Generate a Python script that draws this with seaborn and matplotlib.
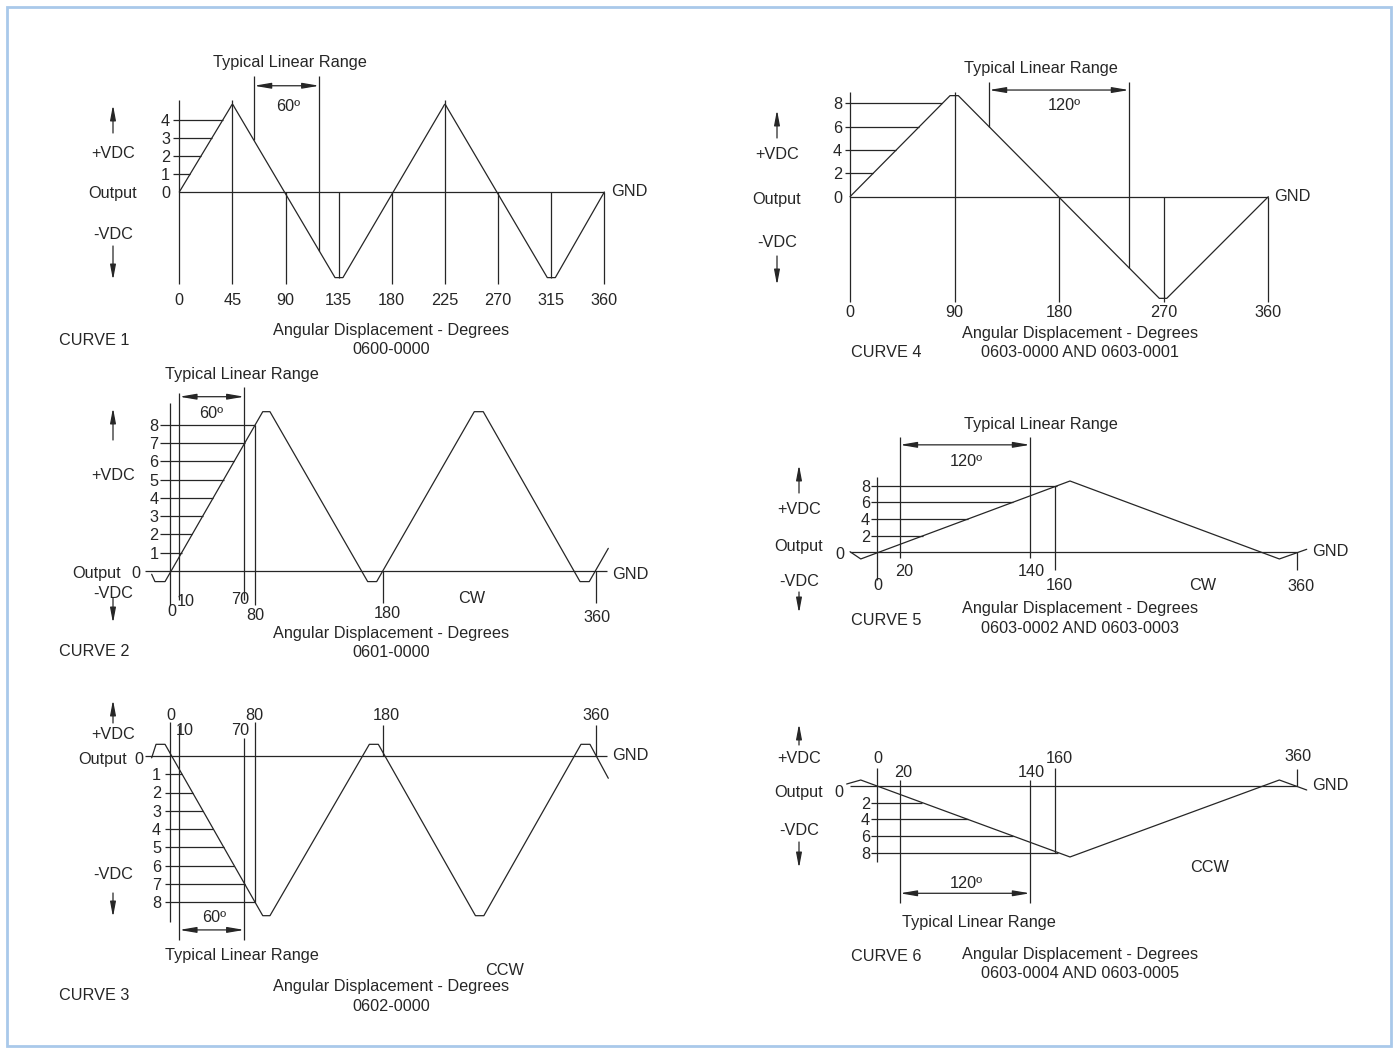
import numpy as np
import seaborn as sns
import matplotlib
matplotlib.use('Agg')
import matplotlib.pyplot as plt
from matplotlib.patches import Rectangle
from matplotlib.transforms import ScaledTranslation

# ---- values: x in degrees, y in volts ----
# CURVE 1 - 0600-0000
c1_deg = [0, 43.3, 44.3, 45, 45.7, 46.7, 131.9, 138.6, 223.3, 224.3, 225, 225.7, 226.7, 311.7, 318.5, 360]
c1_vdc = [0, 4.68, 4.80, 4.85, 4.80, 4.68, -4.73, -4.73, 4.68, 4.80, 4.85, 4.80, 4.68, -4.73, -4.73, 0]
c1_levels = [1, 2, 3, 4]
c1_marks = [0, 45, 90, 135, 180, 225, 270, 315, 360]
c1_mark_labels = ['0', '45', '90', '135', '180', '225', '270', '315', '360']
c1_range = [63.3, 118.6]

# CURVE 2 - 0601-0000 (CW)
c2_deg = [-15.5, -12.7, -4.2, 78.4, 84.5, 167.1, 174.7, 257.2, 264.8, 346.6, 354.4, 370.5]
c2_vdc = [-0.18, -0.58, -0.58, 8.72, 8.72, -0.58, -0.58, 8.72, 8.72, -0.58, -0.58, 1.24]
c2_levels = [1, 2, 3, 4, 5, 6, 7, 8]
c2_marks = [0, 7.9, 62.8, 71.9, 180, 360]
c2_mark_labels = ['0', '10', '70', '80', '180', '360']
c2_range = [7.9, 62.8]

# CURVE 3 - 0602-0000 (CCW)
c3_deg = [-15.5, -11.8, -4.2, 78.4, 84.5, 168.5, 176.1, 258.2, 265.3, 347.4, 355.0, 370.5]
c3_vdc = [-0.1, 0.64, 0.64, -8.75, -8.75, 0.64, 0.64, -8.75, -8.75, 0.64, 0.64, -1.22]
c3_levels = [-1, -2, -3, -4, -5, -6, -7, -8]
c3_marks = [0, 7.9, 62.8, 71.9, 180, 360]
c3_mark_labels = ['0', '10', '70', '80', '180', '360']
c3_range = [7.9, 62.8]

# CURVE 4 - 0603-0000 AND 0603-0001
c4_deg = [0, 86.1, 93.2, 266.2, 272.6, 360]
c4_vdc = [0, 8.66, 8.66, -8.71, -8.71, 0]
c4_levels = [2, 4, 6, 8]
c4_marks = [0, 90, 180, 270, 360]
c4_mark_labels = ['0', '90', '180', '270', '360']
c4_range = [119.6, 240.1]

# CURVE 5 - 0603-0002 AND 0603-0003 (CW)
c5_deg = [-23.4, -14.2, 165.4, 345.1, 368.6]
c5_vdc = [0.07, -0.8, 8.56, -0.8, 0.36]
c5_levels = [2, 4, 6, 8]
c5_marks = [0, 19.4, 131.1, 152.5, 360]
c5_mark_labels = ['0', '20', '140', '160', '360']
c5_range = [19.4, 131.1]

# CURVE 6 - 0603-0004 AND 0603-0005 (CCW)
c6_deg = [-26.3, -14.2, 165.4, 345.1, 368.6]
c6_vdc = [0.24, 0.72, -8.52, 0.72, -0.48]
c6_levels = [-2, -4, -6, -8]
c6_marks = [0, 19.4, 131.1, 152.5, 360]
c6_mark_labels = ['0', '20', '140', '160', '360']
c6_range = [19.4, 131.1]

W, H = 1398, 1052
INK = '#262626'
LW = 0.9
FS = 11.7
DY = 1.5  # glyphs sit a touch lower than matplotlib's 'center'

sns.set_theme(style='white')
plt.rcParams['font.family'] = ['Liberation Sans', 'DejaVu Sans']

fig = plt.figure(figsize=(W / 100, H / 100), dpi=100)
fig.patch.set_facecolor('white')
nudge = ScaledTranslation(0, -DY / 100, fig.dpi_scale_trans)

# pixel overlay for the free labels and the +/-VDC arrows
over = fig.add_axes([0, 0, 1, 1])
over.set_xlim(0, W)
over.set_ylim(H, 0)
over.axis('off')
over.patch.set_visible(False)
over.add_patch(Rectangle((7, 7), 1384, 1039, fill=False, edgecolor='#a9c9ea', lw=2))


def label(x, y, s, ha='center'):
    over.text(x, y + DY, s, ha=ha, va='center', fontsize=FS, color=INK)


def vdc_side(x, ys, up, down):
    # +VDC / Output / -VDC column with its arrows
    for s, y in zip(['+VDC', 'Output', '-VDC'], ys):
        label(x[1] if s == 'Output' else x[0], y, s)
    for y0, y1 in (up, down):
        over.annotate('', xy=(x[0], y1), xytext=(x[0], y0),
                      arrowprops=dict(arrowstyle='-|>,head_length=0.9,head_width=0.17',
                                      color=INK, lw=LW, shrinkA=0, shrinkB=0, mutation_scale=10))


def panel(px0, ppd, py0, ppv):
    # axes spanning the figure, scaled so that degrees / volts land on the drawing
    ax = fig.add_axes([0, 0, 1, 1])
    ax.axis('off')
    ax.patch.set_visible(False)
    ax.set_xlim(-px0 / ppd, (W - px0) / ppd)
    ax.set_ylim((py0 - H) / ppv, py0 / ppv)
    ax.set_autoscale_on(False)
    return ax


def wave(ax, deg, vdc):
    sns.lineplot(x=deg, y=vdc, ax=ax, color=INK, lw=LW, sort=False, estimator=None)


def levels(ax, lv, x0, xlab, seg_deg, seg_vdc, zero=True):
    lv = np.array(lv, dtype=float)
    sgn = np.sign(lv[0])
    ends = np.interp(sgn * lv, sgn * np.array(seg_vdc), seg_deg)
    ax.hlines(lv, x0, ends, color=INK, lw=LW)
    texts = [str(int(abs(v))) for v in lv]
    vals = list(lv)
    if zero:
        texts.append('0')
        vals.append(0)
    for v, s in zip(vals, texts):
        ax.text(xlab, v, s, ha='right', va='center', fontsize=FS, color=INK,
                transform=ax.transData + nudge)


def span(ax, r, y):
    ax.annotate('', xy=(r[1], y), xytext=(r[0], y),
                arrowprops=dict(arrowstyle='<|-|>,head_length=1.0,head_width=0.17',
                                color=INK, lw=LW, shrinkA=0, shrinkB=0, mutation_scale=10))


# ---------------- CURVE 1 ----------------
ax1 = panel(179.3, 1.1806, 192, 18.1)
ax1.hlines(0, 0, 360, color=INK, lw=LW)
wave(ax1, c1_deg, c1_vdc)
levels(ax1, c1_levels, -5.1, -7.9, c1_deg[:4], c1_vdc[:4])
ax1.vlines(c1_marks, [-5.08, -5.08, -5.08, -4.73, -5.08, -5.08, -5.08, -4.73, -5.08],
           [5.08, 5.08, 0, 0, 0, 5.08, 0, 0, 0], color=INK, lw=LW)
ax1.vlines(c1_range, np.interp(c1_range, c1_deg, c1_vdc), 6.41, color=INK, lw=LW)
span(ax1, c1_range, 5.87)
for m, s in zip(c1_marks, c1_mark_labels):
    label(179.3 + m * 1.1806, 299, s)
label(290, 61, 'Typical Linear Range')
label(288, 105, '60º')
vdc_side((113, 113), (152, 192, 233), (133, 105), (246, 280))
label(94, 339, 'CURVE 1')
label(391, 329, 'Angular Displacement - Degrees')
label(391, 348, '0600-0000')
label(611, 190, 'GND', ha='left')

# ---------------- CURVE 2 ----------------
ax2 = panel(170, 1.183, 571, 18.27)
ax2.hlines(0, -21.1, 369.1, color=INK, lw=LW)
wave(ax2, c2_deg, c2_vdc)
levels(ax2, c2_levels, -8.45, -9.6, c2_deg[2:4], c2_vdc[2:4], zero=False)
ax2.vlines(c2_marks, [-1.86, -1.59, -1.59, -1.86, -1.73, -1.73],
           [9.18, 9.74, 10.05, 7.99, 0, 0], color=INK, lw=LW)
span(ax2, c2_range, 9.54)
for (x, y), s in zip([(171.5, 610), (186, 600), (240, 598), (255, 614), (387, 612), (597, 616)],
                     c2_mark_labels):
    label(x, y, s)
label(242, 373, 'Typical Linear Range')
label(211, 412, '60º')
vdc_side((113, 97), (474, 572, 592), (440, 408), (598, 623))
label(136, 572, '0')
label(94, 650, 'CURVE 2')
label(391, 632, 'Angular Displacement - Degrees')
label(391, 651, '0601-0000')
label(612, 573, 'GND', ha='left')
label(472, 597, 'CW')

# ---------------- CURVE 3 ----------------
ax3 = panel(170, 1.183, 756, 18.25)
ax3.hlines(0, -21.1, 369.1, color=INK, lw=LW)
wave(ax3, c3_deg, c3_vdc)
levels(ax3, c3_levels, -4.2, -7.6, c3_deg[2:4], c3_vdc[2:4], zero=False)
ax3.vlines(c3_marks, [-9.1, -10.08, -10.08, -8.0, 0, 0],
           [1.86, 1.7, 0.99, 1.86, 1.7, 1.7], color=INK, lw=LW)
span(ax3, c3_range, -9.53)
for (x, y), s in zip([(170.5, 714), (185, 729), (240, 729), (254, 714), (386, 714), (596, 714)],
                     c3_mark_labels):
    label(x, y, s)
label(242, 954, 'Typical Linear Range')
label(214, 916, '60º')
vdc_side((113, 103), (733, 758, 873), (723, 700), (893, 917))
label(139, 758, '0')
label(94, 994, 'CURVE 3')
label(391, 985, 'Angular Displacement - Degrees')
label(391, 1005, '0602-0000')
label(612, 754, 'GND', ha='left')
label(505, 969, 'CCW')

# ---------------- CURVE 4 ----------------
ax4 = panel(850, 1.162, 196.7, 11.67)
ax4.hlines(0, 0, 360, color=INK, lw=LW)
wave(ax4, c4_deg, c4_vdc)
levels(ax4, c4_levels, -4.3, -6.9, c4_deg[:2], c4_vdc[:2])
ax4.vlines(c4_marks, -9.0, [8.95, 9.0, 0, 0, 0], color=INK, lw=LW)
ax4.vlines(c4_range, np.interp(c4_range, c4_deg, c4_vdc), 9.85, color=INK, lw=LW)
span(ax4, c4_range, 9.14)
for m, s in zip(c4_marks, c4_mark_labels):
    label(850 + m * 1.162, 311, s)
label(1041, 67, 'Typical Linear Range')
label(1064, 104, '120º')
vdc_side((777, 777), (153, 198, 241), (138, 110), (256, 285))
label(886, 351, 'CURVE 4')
label(1080, 332, 'Angular Displacement - Degrees')
label(1080, 351, '0603-0000 AND 0603-0001')
label(1274, 195, 'GND', ha='left')

# ---------------- CURVE 5 ----------------
ax5 = panel(877.3, 1.165, 552.3, 8.33)
ax5.hlines(0, -23.4, 360, color=INK, lw=LW)
wave(ax5, c5_deg, c5_vdc)
levels(ax5, c5_levels, -5.4, -6.3, c5_deg[1:3], c5_vdc[1:3], zero=False)
ax5.vlines(c5_marks, [-3.33, -0.72, -0.72, -2.12, -2.12],
           [9.08, 13.87, 13.87, 7.96, 0], color=INK, lw=LW)
span(ax5, c5_range, 12.9)
for (x, y), s in zip([(878, 584), (904, 570), (1031, 570), (1059, 584), (1301, 585)],
                     c5_mark_labels):
    label(x, y, s)
label(840, 553, '0')
label(1041, 423, 'Typical Linear Range')
label(966, 460, '120º')
vdc_side((799, 799), (508, 545, 580), (493, 465), (592, 613))
label(886, 619, 'CURVE 5')
label(1080, 607, 'Angular Displacement - Degrees')
label(1080, 627, '0603-0002 AND 0603-0003')
label(1312, 550, 'GND', ha='left')
label(1203, 584, 'CW')

# ---------------- CURVE 6 ----------------
ax6 = panel(877.3, 1.165, 786, 8.33)
ax6.hlines(0, -23.4, 360, color=INK, lw=LW)
wave(ax6, c6_deg, c6_vdc)
levels(ax6, c6_levels, -5.4, -6.3, c6_deg[1:3], c6_vdc[1:3], zero=False)
ax6.vlines(c6_marks, [-9.08, -14.0, -14.0, -8.0, 0],
           [2.12, 0.72, 0.72, 2.12, 2.0], color=INK, lw=LW)
span(ax6, c6_range, -12.88)
for (x, y), s in zip([(878, 757), (903, 771), (1031, 771), (1059, 757), (1298, 755)],
                     c6_mark_labels):
    label(x, y, s)
label(839, 791, '0')
label(979, 921, 'Typical Linear Range')
label(966, 882, '120º')
vdc_side((799, 799), (757, 791, 829), (745, 724), (842, 868))
label(886, 955, 'CURVE 6')
label(1080, 953, 'Angular Displacement - Degrees')
label(1080, 972, '0603-0004 AND 0603-0005')
label(1312, 784, 'GND', ha='left')
label(1210, 866, 'CCW')

fig.savefig('out.png', dpi=100, facecolor='white')
